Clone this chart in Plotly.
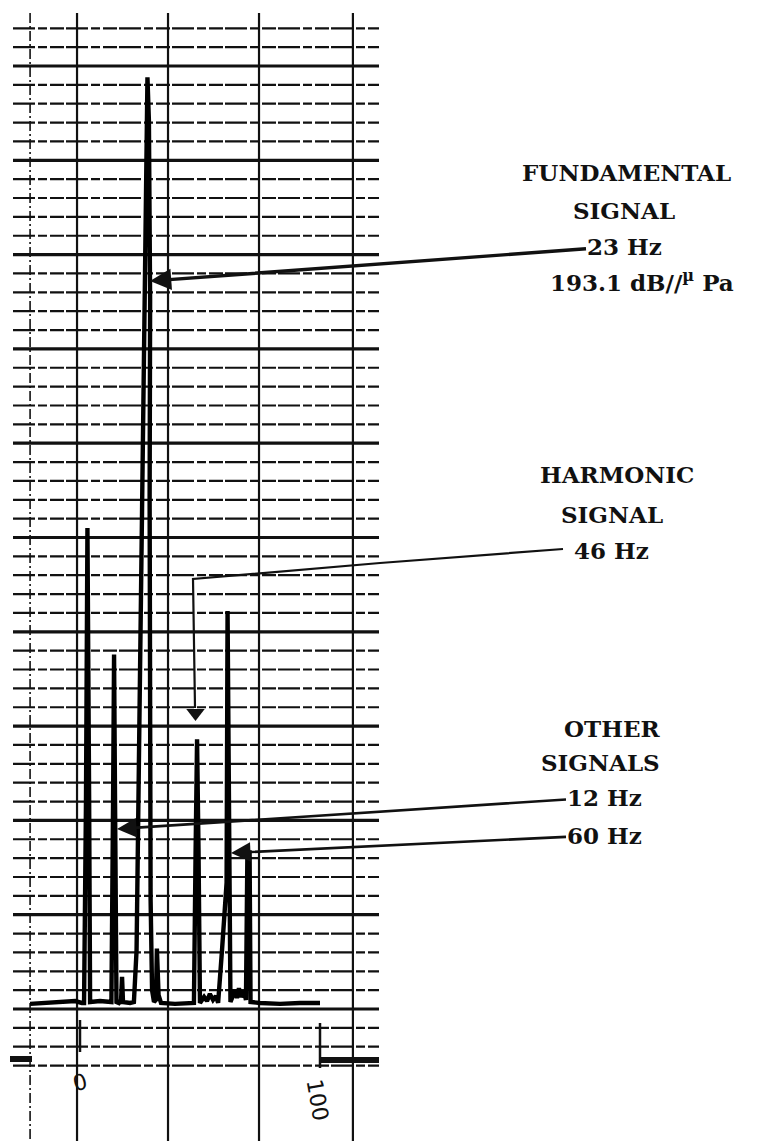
import plotly.graph_objects as go

# spectrum trace
# x in Hz (handwritten 0 ... 100 scale under the chart), y in chart divisions above the baseline
spec_hz = [-19.8, -13.6, -7.4, -1.2, 1.6, 2.5, 3.3, 3.9, 4.6, 5.0,
           9.1, 13.2, 13.8, 14.5, 14.9, 15.3, 15.9, 16.9, 17.8, 18.2, 18.6,
           21.5, 23.1, 24.2, 25.0, 25.8, 26.7, 27.5, 28.3, 28.7, 29.3, 29.8,
           29.6, 29.6, 30.0, 30.6, 31.4, 32.2, 32.6, 33.3, 34.3,
           40.1, 46.3, 47.9, 48.6, 49.2, 49.8, 50.4,
           52.1, 53.3, 54.5, 55.8, 57.0,
           57.9, 59.5, 61.4, 61.8, 62.4, 63.0,
           64.0, 64.9, 65.7, 66.5, 67.4, 68.6, 69.4,
           70.0, 70.9, 71.3,
           75.2, 83.5, 91.7, 100.0]
spec_div = [0.27, 0.32, 0.37, 0.42, 0.32, 0.32, 11.1, 25.5, 11.1, 0.37,
            0.42, 0.37, 0.37, 11.1, 18.8, 11.1, 0.37, 0.32, 0.48, 1.70, 0.37,
            0.32, 0.37, 3.1, 11.1, 21.7, 32.3, 40.2, 47.1, 49.4, 47.1, 37.6,
            27.0, 16.4, 5.8, 1.0, 0.37, 0.48, 3.2, 0.74, 0.32,
            0.27, 0.32, 0.32, 8.4, 14.3, 8.4, 0.32,
            0.64, 0.42, 0.80, 0.48, 0.69,
            0.32, 3.1, 6.7, 21.1, 11.1, 0.37,
            0.69, 1.0, 0.58, 1.1, 0.64, 0.95, 0.48,
            8.3, 8.3, 0.37,
            0.32, 0.27, 0.32, 0.32]

# chart paper rulings
h_lines = list(range(-3, 53))          # one ruling per division, heavy every 5th
v_lines = [-0.4, 37.2, 74.8, 113.6]    # heavy verticals (Hz)
v_dashed = [-19.8]

# text blocks (no arrow)
labels = [
    ("FUNDAMENTAL", 626, 173), ("SIGNAL", 624, 211), ("193.1 dB//<sup>µ</sup> Pa", 642, 281),
    ("HARMONIC", 617, 474), ("SIGNAL", 612, 514), ("46 Hz", 611, 550),
    ("OTHER", 612, 728), ("SIGNALS", 600, 762),
]
# labels with a pointer: text, text centre, tip of the arrow
pointers = [
    ("23 Hz", (624, 246), (150, 281)),
    ("12 Hz", (604, 797), (117, 829)),
    ("60 Hz", (604, 835), (231, 853)),
]

PAD = 8                       # page margin of the html body
W, H = 764, 1141
x0_px, hz_px = 78, 2.42       # 0 Hz at 78 px, 2.42 px per Hz
y0_px, div_px = 1009, 18.86   # baseline at 1009 px, 18.86 px per division


def hz(xp):
    return (xp - x0_px) / hz_px


def dv(yp):
    return (y0_px - yp) / div_px


fig = go.Figure()

# light rulings (broken dashes) and heavy rulings
xs, ys, xb, yb = [], [], [], []
for d in h_lines:
    if d % 5 == 0:
        xb += [hz(13), hz(379), None]
        yb += [d, d, None]
    else:
        xs += [hz(13), hz(379), None]
        ys += [d, d, None]
fig.add_trace(go.Scatter(x=xs, y=ys, mode='lines', hoverinfo='skip',
                         line=dict(color='#111', width=2.2, dash='22px,3px,9px,3px,14px,2px')))
fig.add_trace(go.Scatter(x=xb, y=yb, mode='lines', hoverinfo='skip',
                         line=dict(color='#111', width=3.2)))

xv, yv = [], []
for v in v_lines:
    xv += [v, v, None]
    yv += [dv(13), dv(1141), None]
fig.add_trace(go.Scatter(x=xv, y=yv, mode='lines', hoverinfo='skip',
                         line=dict(color='#111', width=2.2)))
xd, yd = [], []
for v in v_dashed:
    xd += [v, v, None]
    yd += [dv(13), dv(1141), None]
fig.add_trace(go.Scatter(x=xd, y=yd, mode='lines', hoverinfo='skip',
                         line=dict(color='#111', width=1.6, dash='10px,3px,2px,3px')))

# bottom marks of the recorder paper
fig.add_trace(go.Scatter(x=[hz(10), hz(32), None, hz(320), hz(379)],
                         y=[dv(1059), dv(1059), None, dv(1060), dv(1060)],
                         mode='lines', hoverinfo='skip', line=dict(color='#111', width=6)))
fig.add_trace(go.Scatter(x=[hz(80), hz(80), None, hz(320), hz(320)],
                         y=[dv(1020), dv(1052), None, dv(1023), dv(1068)],
                         mode='lines', hoverinfo='skip', line=dict(color='#111', width=2.5)))

# the spectrum itself
fig.add_trace(go.Scatter(x=spec_hz, y=spec_div, mode='lines', hoverinfo='skip',
                         line=dict(color='#000', width=4.4)))

# harmonic pointer with its elbow and a downward head
fig.add_trace(go.Scatter(x=[hz(563), hz(380), hz(193), hz(195)],
                         y=[dv(549), dv(563), dv(579), dv(708)],
                         mode='lines', hoverinfo='skip', line=dict(color='#111', width=2.2)))
fig.add_trace(go.Scatter(x=[hz(195.5)], y=[dv(713)], mode='markers', hoverinfo='skip',
                         marker=dict(symbol='triangle-down', size=16, color='#111')))

font = dict(family='DejaVu Serif', size=23, color='#111', weight='bold')
for txt, xp, yp in labels:
    fig.add_annotation(text=txt, x=(xp - PAD) / (W - PAD), y=1 - (yp - PAD) / (H - PAD),
                       xref='paper', yref='paper', showarrow=False,
                       xanchor='center', yanchor='middle', font=font)

for i, (txt, (tx, ty), (px, py)) in enumerate(pointers):
    fig.add_annotation(text=txt, x=hz(px), y=dv(py), ax=hz(tx), ay=dv(ty),
                       xref='x', yref='y', axref='x', ayref='y', showarrow=True,
                       arrowhead=2, arrowwidth=3.4 if i == 0 else 2.6,
                       arrowsize=1.25 if i == 0 else 1.5, arrowcolor='#111',
                       standoff=0, borderpad=0, font=font)

# handwritten scale marks
hand = dict(family='DejaVu Sans', size=22, color='#111')
fig.add_annotation(text='0', x=hz(80), y=dv(1082), xref='x', yref='y', showarrow=False,
                   textangle=-15, font=hand)
fig.add_annotation(text='100', x=hz(318), y=dv(1100), xref='x', yref='y', showarrow=False,
                   textangle=80, font=hand)

fig.update_xaxes(range=[hz(PAD), hz(W)], visible=False)
fig.update_yaxes(range=[dv(H), dv(PAD)], visible=False)
fig.update_layout(width=W - PAD, height=H - PAD, margin=dict(l=0, r=0, t=0, b=0),
                  showlegend=False, plot_bgcolor='white', paper_bgcolor='white')

fig.write_html("out.html")
